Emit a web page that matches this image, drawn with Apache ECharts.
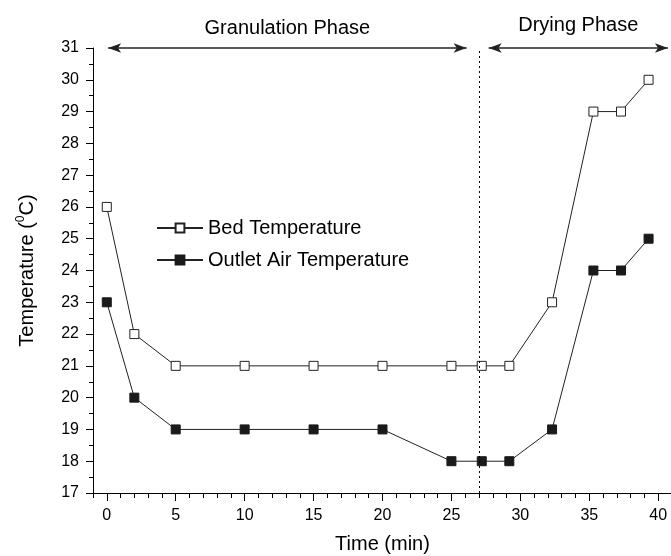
<!DOCTYPE html>
<html>
<head>
<meta charset="utf-8">
<script src="https://cdn.jsdelivr.net/npm/echarts@6/dist/echarts.min.js"></script>
<style>
  html, body { margin: 0; padding: 0; background: #fff; }
  #chart { width: 671px; height: 556px; }
</style>
</head>
<body>
<div id="chart"></div>
<script>
const times = [0, 2, 5, 10, 15, 20, 25, 27.2, 29.2, 32.3, 35.3, 37.3, 39.3]
const bedTemp = [26, 22, 21, 21, 21, 21, 21, 21, 21, 23, 29, 29, 30]
const outletTemp = [23, 20, 19, 19, 19, 19, 18, 18, 18, 19, 24, 24, 25]

// phase annotations (in data units)
const phaseSplit = 27.0
const granulationRange = [0.1, 26.1]
const dryingRange = [27.7, 40.7]

const font = 'Liberation Sans, Arial, sans-serif'
const gridLeft = 93
const gridWidth = 579
const unit = gridWidth / 42 // x axis runs from -1 to 41

const pairs = (xs, ys) => xs.map((x, i) => [x, ys[i]])

const chart = echarts.init(document.getElementById('chart'), null, { renderer: 'canvas' })

const option = {
  animation: false,
  textStyle: { fontFamily: font, color: '#000' },
  legend: {
    orient: 'vertical',
    left: 151,
    top: 211,
    itemWidth: 46,
    itemHeight: 11,
    itemGap: 8,
    textStyle: { fontSize: 20, lineHeight: 24, color: '#000', fontFamily: font },
    data: ['Bed Temperature', 'Outlet Air Temperature']
  },
  grid: [
    { left: gridLeft, width: gridWidth, top: 48, bottom: 63, outerBoundsMode: 'none' },
    // second grid only carries the major ticks and labels 0..40
    { left: gridLeft + unit, width: unit * 40, top: 48, bottom: 63, outerBoundsMode: 'none' }
  ],
  xAxis: [
    {
      gridIndex: 0,
      type: 'value',
      min: -1,
      max: 41,
      interval: 1,
      name: 'Time (min)',
      nameLocation: 'middle',
      nameGap: 41,
      nameTextStyle: { fontSize: 20, color: '#000', fontFamily: font },
      axisLine: { onZero: false, lineStyle: { color: '#000', width: 1 } },
      axisTick: { show: true, length: 5, lineStyle: { color: '#000' } },
      axisLabel: { show: false },
      splitLine: { show: false }
    },
    {
      gridIndex: 1,
      type: 'value',
      min: 0,
      max: 40,
      interval: 5,
      axisLine: { show: false, onZero: false },
      axisTick: { show: true, length: 8, lineStyle: { color: '#000' } },
      axisLabel: { fontSize: 16, color: '#000', margin: 15, fontFamily: font },
      splitLine: { show: false }
    }
  ],
  yAxis: [
    {
      gridIndex: 0,
      type: 'value',
      min: 17,
      max: 31,
      interval: 1,
      name: 'Temperature ({sup|0}C)',
      nameLocation: 'middle',
      nameGap: 54,
      nameTextStyle: {
        fontSize: 20, color: '#000', fontFamily: font, lineHeight: 24,
        rich: { sup: { fontSize: 12, verticalAlign: 'top', lineHeight: 14, fontFamily: font, color: '#000' } }
      },
      axisLine: { show: true, onZero: false, lineStyle: { color: '#000', width: 1 } },
      axisTick: { show: true, length: 7, lineStyle: { color: '#000' } },
      minorTick: { show: true, splitNumber: 2, length: 4, lineStyle: { color: '#000' } },
      axisLabel: { fontSize: 16, color: '#000', margin: 14, fontFamily: font },
      splitLine: { show: false }
    },
    { gridIndex: 1, type: 'value', min: 17, max: 31, show: false }
  ],
  series: [
    {
      name: 'Bed Temperature',
      type: 'line',
      xAxisIndex: 0,
      yAxisIndex: 0,
      data: pairs(times, bedTemp),
      symbol: 'rect',
      symbolSize: 9,
      showAllSymbol: true,
      lineStyle: { color: '#222', width: 1 },
      itemStyle: { color: '#fff', borderColor: '#222', borderWidth: 1 },
      silent: true,
      markLine: {
        silent: true,
        animation: false,
        data: [
          [
            { coord: [granulationRange[0], 31], symbol: 'arrow', label: { distance: 10 } },
            { coord: [granulationRange[1], 31], symbol: 'arrow' }
          ],
          [
            { coord: [dryingRange[0], 31], symbol: 'arrow', label: { distance: 13 } },
            { coord: [dryingRange[1], 31], symbol: 'arrow' }
          ]
        ],
        symbolSize: [7, 13],
        lineStyle: { color: '#222', width: 1.5, type: 'solid' },
        label: {
          show: true,
          position: 'insideMiddleTop',
          fontSize: 20,
          color: '#000',
          fontFamily: font,
          formatter: (p) => (p.dataIndex === 0 ? 'Granulation Phase' : 'Drying Phase')
        }
      }
    },
    {
      name: 'Outlet Air Temperature',
      type: 'line',
      xAxisIndex: 0,
      yAxisIndex: 0,
      data: pairs(times, outletTemp),
      symbol: 'rect',
      symbolSize: 9,
      showAllSymbol: true,
      lineStyle: { color: '#222', width: 1 },
      itemStyle: { color: '#1a1a1a', borderColor: '#1a1a1a', borderWidth: 1 },
      silent: true,
      markLine: {
        silent: true,
        animation: false,
        symbol: ['none', 'none'],
        label: { show: false },
        lineStyle: { color: '#000', width: 1, type: [2, 3] },
        data: [
          [
            { coord: [phaseSplit, 17] },
            { coord: [phaseSplit, 31] }
          ]
        ]
      }
    }
  ]
}

chart.setOption(option)
</script>
</body>
</html>
